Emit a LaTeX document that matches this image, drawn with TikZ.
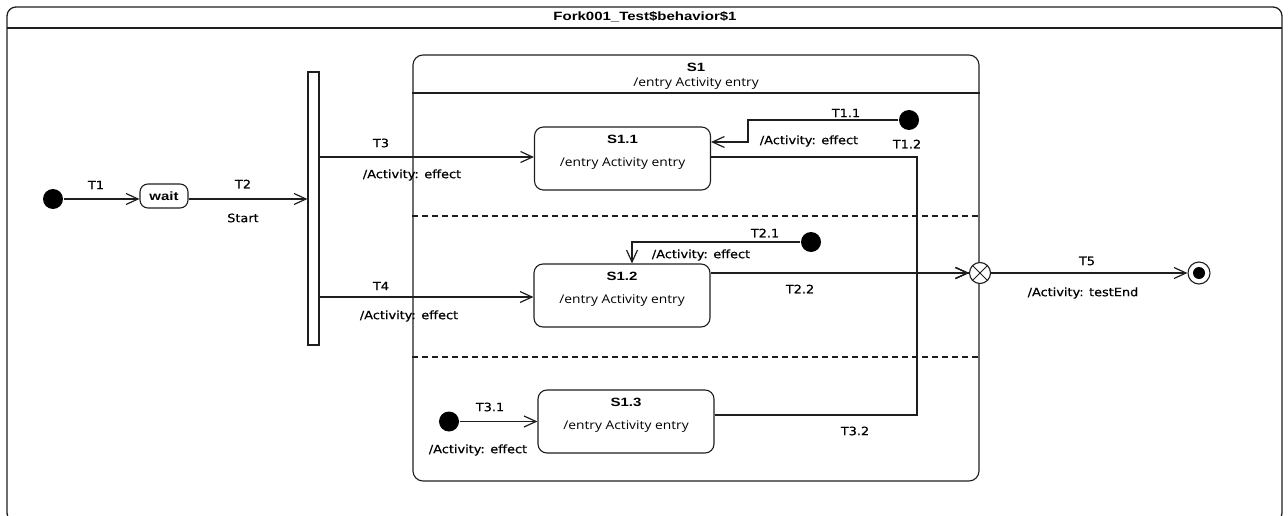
\documentclass[tikz,border=0pt]{standalone}
\usepackage{fontspec}
\setmainfont{Liberation Sans}[FakeStretch=1.25]
\newfontfamily\trfont{DejaVu Sans}[FakeStretch=1.12,FakeBold=0.6]
\newfontfamily\enfont{Open Sans}[FakeStretch=1.15]
\usetikzlibrary{arrows.meta,positioning}
\definecolor{umlline}{RGB}{30,30,30}

\begin{document}
\begin{tikzpicture}[x=1pt,y=-1pt,line width=1.1pt,
  trans/.style={draw=umlline,-{Straight Barb[length=12pt,width=11pt,line width=1.2pt]}},
  initdot/.style={circle,fill=black,inner sep=0pt,minimum size=20pt},
  statebox/.style={draw=umlline,rounded corners=9pt,minimum width=176pt,minimum height=63pt,inner sep=0pt},
  tlabel/.style={font=\trfont\fontsize{11.5}{13}\selectfont,inner sep=0pt},
  elabel/.style={font=\enfont\fontsize{12}{14}\selectfont,inner sep=0pt},
  bname/.style={font=\bfseries\fontsize{12}{14}\selectfont,inner sep=0pt}]
  \useasboundingbox (0,0) rectangle (1288,516);
  \clip (0,0) rectangle (1288,516);
  % outer frame
  \draw[umlline,line width=1.3pt,rounded corners=9pt] (7,7) rectangle (1282,522);
  \draw[umlline,line width=1.3pt] (7,28) -- (1282,28);
  \node[bname] (title) at (645,17) {Fork001\_Test\$behavior\$1};
  % left part
  \node[initdot] (i0) at (53,199) {};
  \node[draw=umlline,rounded corners=8pt,minimum width=48pt,minimum height=24pt,inner sep=0pt,
        font=\bfseries\fontsize{12}{14}\selectfont] (wait) at (164,196) {wait};
  \node[draw=umlline,minimum width=11pt,minimum height=273pt,inner sep=0pt] (fork) at (313.5,208.5) {};
  % composite state
  \node[draw=umlline,rounded corners=10pt,minimum width=566pt,minimum height=426pt,inner sep=0pt] (s1) at (696,268) {};
  \draw[umlline] (s1.west |- 0,93) -- (s1.east |- 0,93);
  \node[bname] (s1name) at (696,67) {S1};
  \node[elabel] (s1entry) at (696,84) {/entry Activity entry};
  \foreach \y in {216,357}
    \draw[umlline,dash pattern=on 6pt off 4pt] (s1.west |- 0,\y) -- (s1.east |- 0,\y);
  \foreach \k/\x/\y in {1/622.5/158.5,2/622/295.5,3/626/421.5} {
    \node[statebox] (s1\k) at (\x,\y) {};
    \node[bname,below=8pt of s1\k.north] (n1\k) {S1.\k};
    \node[elabel,below=31pt of s1\k.north] (e1\k) {/entry Activity entry};
  }
  \node[initdot] (i11) at (909,120) {};
  \node[initdot] (i12) at (811,242) {};
  \node[initdot] (i13) at (449,421.5) {};
  \node[draw=umlline,circle,minimum size=21pt,inner sep=0pt,fill=white,
        path picture={\draw[umlline,line width=0.9pt] (path picture bounding box.north west) -- (path picture bounding box.south east)
          (path picture bounding box.north east) -- (path picture bounding box.south west);}] (join) at (980,273) {};
  \node[draw=umlline,circle,minimum size=22pt,inner sep=0pt] (fin) at (1199,273) {};
  \fill (fin) circle (6pt);
  \coordinate (mid) at (917,273);
  % transitions
  \draw[trans] (i0) -- (wait.west |- i0);
  \draw[trans] (wait.east |- i0) -- (fork.west |- i0);
  \draw[trans] (fork.east |- 0,157) -- (s11.west |- 0,157);
  \draw[trans] (fork.east |- 0,297) -- (s12.west |- 0,297);
  \draw[trans] (i11) -- (748,120) |- (s11.east |- 0,142);
  \draw[trans] (i12) -| (s12.north -| 632,0);
  \draw[trans] (i13) -- (s13.west);
  \draw[trans] (s12.east |- join) -- (join);
  \draw[trans] (s11.east |- 0,157) -| (mid) -- (join);
  \draw[trans] (s13.east |- 0,415) -| (mid) -- (join);
  \draw[umlline,line width=1.8pt] (mid) -- (join.west);
  \draw[trans] (join) -- (fin);
  % labels
  \node[tlabel] (lt1) at (96,185) {T1};
  \node[tlabel] (lt2) at (243,184) {T2};
  \node[tlabel] (lst) at (243,218) {Start};
  \node[tlabel] (lt3) at (381,143) {T3};
  \node[tlabel] (la3) at (412,175) {/Activity: effect};
  \node[tlabel] (lt4) at (381,286) {T4};
  \node[tlabel] (la4) at (409,316) {/Activity: effect};
  \node[tlabel] (lt11) at (846,113) {T1.1};
  \node[tlabel] (la11) at (809,141) {/Activity: effect};
  \node[tlabel] (lt12) at (907,144) {T1.2};
  \node[tlabel] (lt21) at (765,233) {T2.1};
  \node[tlabel] (la21) at (701,255) {/Activity: effect};
  \node[tlabel] (lt22) at (800,289) {T2.2};
  \node[tlabel] (lt31) at (490,407) {T3.1};
  \node[tlabel] (la31) at (478,450) {/Activity: effect};
  \node[tlabel] (lt32) at (855,431) {T3.2};
  \node[tlabel] (lt5) at (1087,261) {T5};
  \node[tlabel] (la5) at (1083,293) {/Activity: testEnd};
\end{tikzpicture}
\end{document}
